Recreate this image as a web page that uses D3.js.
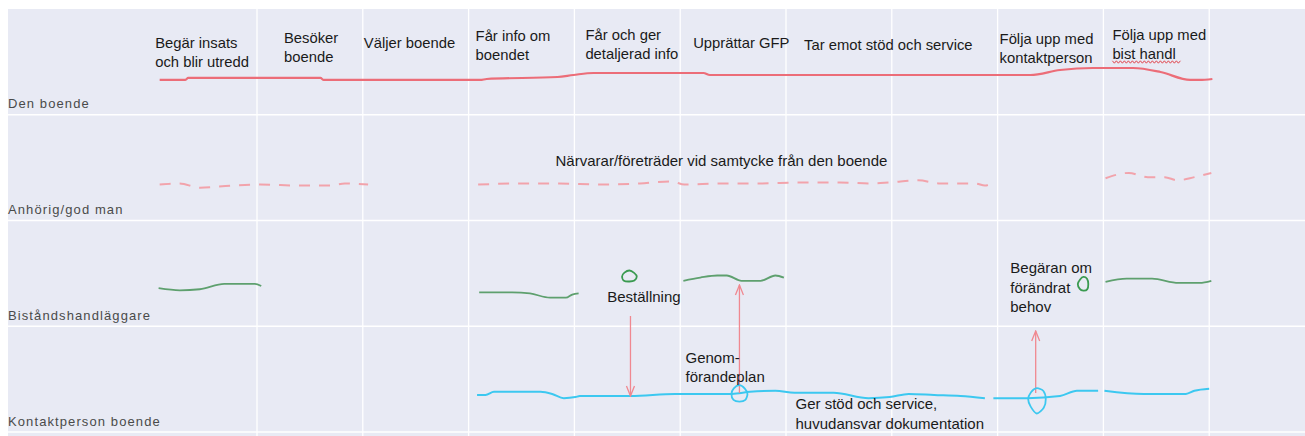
<!DOCTYPE html>
<html>
<head>
<meta charset="utf-8">
<script src="https://cdn.jsdelivr.net/npm/d3@7"></script>
<style>
  html, body { margin: 0; padding: 0; background: #fff; }
  svg { display: block; }
  .head { font-family: "Liberation Sans", Arial, sans-serif; font-size: 14.8px; fill: #1a1a1a; }
  .note { font-family: "Liberation Sans", Arial, sans-serif; font-size: 15px; fill: #1a1a1a; }
  .lane { font-family: "Liberation Sans", Arial, sans-serif; font-size: 13px; fill: #4a4a4a; letter-spacing: 1.1px; }
</style>
</head>
<body>
<svg id="chart" width="1305" height="436"></svg>
<script>
// stages (columns), x unit = one column
const stages = [
  ["Begär insats", "och blir utredd"],
  ["Besöker", "boende"],
  ["Väljer boende"],
  ["Får info om", "boendet"],
  ["Får och ger", "detaljerad info"],
  ["Upprättar GFP"],
  ["Tar emot stöd och service"],
  ["Följa upp med", "kontaktperson"],
  ["Följa upp med", "bist handl"]
];
const stageCols = [0, 1, 2, 3, 4, 5, 6, 8, 9];
const stageDx = [4, 27, 1, 7, 11, 13, 18, 2, 9];
const stageY = [43, 38, 43, 36, 35, 43, 45, 39, 35];

const lanes = ["Den boende", "Anhörig/god man", "Biståndshandläggare", "Kontaktperson boende"];

// [column position, offset within lane (0 = top, 1 = bottom)]
const boendeLine = [[0.08,0.671],[0.32,0.671],[0.35,0.652],[1.60,0.652],[1.63,0.671],[1.86,0.671],[3.11,0.671],[3.17,0.662],[3.84,0.643],[3.99,0.624],[4.18,0.605],[5.22,0.605],[5.28,0.624],[8.31,0.624],[8.59,0.577],[8.90,0.558],[9.28,0.558],[9.54,0.596],[9.82,0.671],[9.91,0.671],[10.03,0.662]];

const anhorigSegments = [
  [[0.08,0.66],[0.27,0.65],[0.46,0.69],[0.75,0.67],[1.03,0.66],[1.41,0.67],[1.69,0.67],[1.83,0.65],[2.05,0.66]],
  [[3.09,0.66],[3.49,0.65],[3.86,0.65],[4.24,0.66],[4.62,0.65],[4.92,0.63],[5.04,0.66],[5.38,0.65],[5.75,0.65],[6.13,0.64],[6.51,0.64],[6.79,0.65],[6.98,0.64],[7.25,0.62],[7.46,0.65],[7.79,0.65],[7.88,0.67],[7.94,0.65]],
  [[9.02,0.60],[9.24,0.55],[9.42,0.59],[9.58,0.59],[9.70,0.62],[9.86,0.59],[10.02,0.55]]
];

const handlaggareSegments = [
  [[0.07,0.64],[0.27,0.66],[0.46,0.65],[0.69,0.60],[0.98,0.60],[1.04,0.62]],
  [[3.10,0.68],[3.41,0.68],[3.58,0.69],[3.77,0.73],[3.92,0.73],[3.98,0.70],[4.04,0.69]],
  [[5.03,0.57],[5.19,0.54],[5.35,0.52],[5.44,0.52],[5.58,0.57],[5.76,0.57],[5.90,0.52],[5.98,0.54]],
  [[9.02,0.58],[9.22,0.55],[9.46,0.55],[9.71,0.59],[9.91,0.59],[10.02,0.57]]
];

const kontaktSegments = [
  [[3.08,0.65],[3.16,0.65],[3.24,0.62],[3.68,0.62],[3.79,0.64],[3.90,0.68],[4.01,0.67],[4.05,0.66],[4.53,0.66],[4.95,0.64],[5.49,0.64],[5.66,0.62],[5.90,0.61],[6.08,0.63],[6.45,0.63],[6.78,0.68],[6.98,0.67],[7.16,0.64],[7.40,0.65],[7.65,0.66],[7.88,0.68]],
  [[7.96,0.68],[8.28,0.68],[8.59,0.66],[8.75,0.61],[8.95,0.61]],
  [[9.01,0.61],[9.38,0.64],[9.78,0.64],[9.86,0.61],[10.00,0.59]]
];

// hand drawn marks: [column, lane position]
const greenBlobs = [[4.52, 2.53], [8.81, 2.60]];
const cyanBlobs = [[5.56, 3.64], [8.37, 3.69]];

// arrows: [column, from lane pos, to lane pos]
const arrows = [[4.53, 2.903, 3.660], [5.56, 3.631, 2.610], [8.36, 3.631, 3.045]];

const notes = [
  { lines: ["Närvarar/företräder vid samtycke från den boende"], x: 5.39, y: 1.428, anchor: "middle" },
  { lines: ["Beställning"], x: 4.31, y: 2.714, anchor: "start" },
  { lines: ["Begäran om", "förändrat", "behov"], x: 8.12, y: 2.449, anchor: "start" },
  { lines: ["Genom-", "förandeplan"], x: 5.05, y: 3.291, anchor: "start" },
  { lines: ["Ger stöd och service,", "huvudansvar dokumentation"], x: 6.09, y: 3.735, anchor: "start" }
];

const W = 1305, H = 436;
const svg = d3.select("#chart");
const x = d3.scaleLinear().domain([0, 10]).range([151.2, 1209.2]);
const y = d3.scaleLinear().domain([0, 4]).range([9, 432]);

svg.append("rect").attr("x", 8).attr("y", 9).attr("width", W - 8).attr("height", H - 9).attr("fill", "#e8eaf4");

// grid
svg.append("g").selectAll("line").data(d3.range(1, 11)).join("line")
  .attr("x1", d => x(d)).attr("x2", d => x(d)).attr("y1", 9).attr("y2", H)
  .attr("stroke", "#fff").attr("stroke-width", 1.3);
svg.append("g").selectAll("line").data(d3.range(1, 5)).join("line")
  .attr("x1", 8).attr("x2", W).attr("y1", d => y(d)).attr("y2", d => y(d))
  .attr("stroke", "#fff").attr("stroke-width", 1.6);

// lane labels
svg.append("g").selectAll("text").data(lanes).join("text")
  .attr("class", "lane").attr("x", 8).attr("y", (d, i) => y(i + 1) - 11)
  .attr("dominant-baseline", "central").text(d => d);

// stage headers
const heads = svg.append("g").selectAll("text").data(stages).join("text")
  .attr("class", "head")
  .attr("x", (d, i) => x(stageCols[i]) + stageDx[i])
  .attr("y", (d, i) => stageY[i]);
heads.selectAll("tspan").data(d => d).join("tspan")
  .attr("x", function () { return this.parentNode.getAttribute("x"); })
  .attr("dy", (d, i) => i === 0 ? 0 : 19)
  .attr("dominant-baseline", "central")
  .text(d => d);

// spell-check squiggle under "bist handl"
const sqX0 = x(9) + 9, sqX1 = sqX0 + 70, sqY = 62;
svg.append("path")
  .attr("d", d3.line()(d3.range(sqX0, sqX1, 2).map((v, i) => [v, sqY + (i % 2 ? 1.2 : -1.2)])))
  .attr("fill", "none").attr("stroke", "#e0343c").attr("stroke-width", 0.9);

function laneLine(lane) {
  return d3.line().x(d => x(d[0])).y(d => y(lane + d[1])).curve(d3.curveMonotoneX);
}

svg.append("path").attr("d", laneLine(0)(boendeLine))
  .attr("fill", "none").attr("stroke", "#ec6d78").attr("stroke-width", 2.2);

svg.append("g").selectAll("path").data(anhorigSegments).join("path")
  .attr("d", laneLine(1)).attr("fill", "none").attr("stroke", "#f2a3ab")
  .attr("stroke-width", 2).attr("stroke-dasharray", "11,9");

svg.append("g").selectAll("path").data(handlaggareSegments).join("path")
  .attr("d", laneLine(2)).attr("fill", "none").attr("stroke", "#5ea06e").attr("stroke-width", 1.8);

svg.append("g").selectAll("path").data(kontaktSegments).join("path")
  .attr("d", laneLine(3)).attr("fill", "none").attr("stroke", "#3cc8f0").attr("stroke-width", 2);

// arrows
svg.append("defs").append("marker").attr("id", "head")
  .attr("viewBox", "0 0 12 10").attr("refX", 11).attr("refY", 5)
  .attr("markerWidth", 12).attr("markerHeight", 10).attr("markerUnits", "userSpaceOnUse")
  .attr("orient", "auto")
  .append("path").attr("d", "M1,1 L11,5 L1,9").attr("fill", "none")
  .attr("stroke", "#f08890").attr("stroke-width", 1.3);
svg.append("g").selectAll("line").data(arrows).join("line")
  .attr("x1", d => x(d[0])).attr("x2", d => x(d[0]))
  .attr("y1", d => y(d[1])).attr("y2", d => y(d[2]))
  .attr("stroke", "#f08890").attr("stroke-width", 1.3).attr("marker-end", "url(#head)");

// hand drawn blobs
const blobShape = d3.line().curve(d3.curveCardinalClosed.tension(0.2));
function blob(cx, cy, rx, ry, skew) {
  return blobShape(d3.range(8).map(i => {
    const a = i / 8 * 2 * Math.PI;
    const s = 1 + skew[i];
    return [cx + Math.cos(a) * rx * s, cy + Math.sin(a) * ry * s];
  }));
}
const greenSize = [[7, 5.5, [0.05, 0, -0.1, 0.1, 0.05, 0, 0.1, -0.05]], [5, 7, [0, 0.1, -0.05, 0, 0.1, -0.1, 0, 0.05]]];
svg.append("g").selectAll("path").data(greenBlobs).join("path")
  .attr("d", (d, i) => blob(x(d[0]), y(d[1]), greenSize[i][0], greenSize[i][1], greenSize[i][2]))
  .attr("fill", "none").attr("stroke", "#3a9a50").attr("stroke-width", 1.8);
const cyanSize = [[8, 8, [0, 0.05, -0.05, 0.05, 0, 0, 0.1, -0.05]], [9, 11, [0, 0.1, 0.3, -0.05, -0.05, -0.1, 0, 0.05]]];
svg.append("g").selectAll("path").data(cyanBlobs).join("path")
  .attr("d", (d, i) => blob(x(d[0]), y(d[1]), cyanSize[i][0], cyanSize[i][1], cyanSize[i][2]))
  .attr("fill", "none").attr("stroke", "#3cc8f0").attr("stroke-width", 1.8);

// annotations
const nt = svg.append("g").selectAll("text").data(notes).join("text")
  .attr("class", "note").attr("x", d => x(d.x)).attr("y", d => y(d.y))
  .attr("text-anchor", d => d.anchor);
nt.selectAll("tspan").data(d => d.lines).join("tspan")
  .attr("x", function () { return this.parentNode.getAttribute("x"); })
  .attr("dy", (d, i) => i === 0 ? 0 : 19.5)
  .attr("dominant-baseline", "central")
  .text(d => d);
</script>
</body>
</html>
